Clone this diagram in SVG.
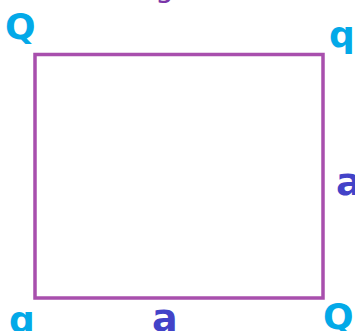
<svg xmlns="http://www.w3.org/2000/svg" width="355" height="331" viewBox="0 0 355 331">
<style>
.charge{font-family:"DejaVu Sans","Liberation Sans",sans-serif;font-weight:bold;font-size:36px;fill:#03A9E8}
.side{font-family:"DejaVu Sans","Liberation Sans",sans-serif;font-weight:bold;font-size:38px;fill:#4343C8}
.frag{font-family:"DejaVu Sans","Liberation Sans",sans-serif;font-size:30px;fill:#7A35A8}
</style>
<rect width="355" height="331" fill="#ffffff"/>
<text class="frag" x="155" y="-3">g</text>
<g id="square">
<rect x="35" y="54.5" width="288" height="243.5" fill="none" stroke="#A84FAD" stroke-width="3.5"/>
</g>
<g id="charge-top-left"><text class="charge" x="5" y="39">Q</text></g>
<g id="charge-top-right"><text class="charge" x="329" y="47">q</text></g>
<g id="charge-bottom-left"><text class="charge" x="9" y="332">q</text></g>
<g id="charge-bottom-right"><text class="charge" x="323" y="329">Q</text></g>
<g id="label-right"><text class="side" x="336" y="195">a</text></g>
<g id="label-bottom"><text class="side" x="152" y="331">a</text></g>
</svg>
